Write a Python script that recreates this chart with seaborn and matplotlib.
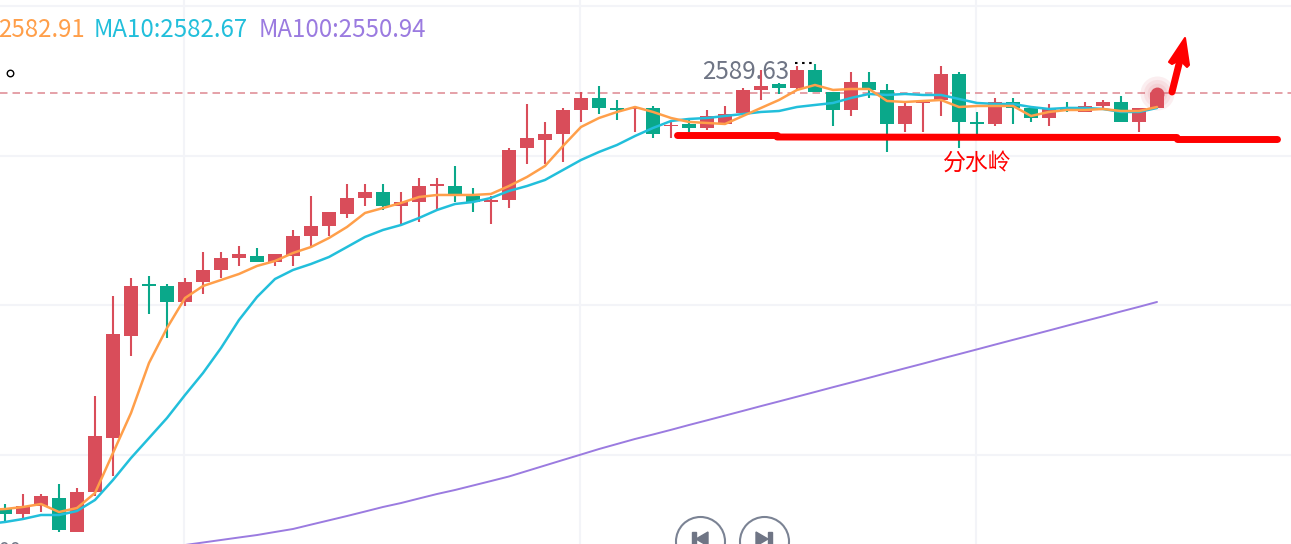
"""Gold candlestick chart with MA lines and hand-drawn annotations."""

import numpy as np
import matplotlib.pyplot as plt
import seaborn as sns

opens = [2515.89, 2515.14, 2516.47, 2517.81, 2512.13, 2518.81, 2527.84, 2544.90, 2553.60, 2553.26,
         2550.59, 2553.93, 2555.94, 2557.94, 2558.28, 2557.27, 2558.28, 2561.62, 2563.29, 2565.30,
         2567.98, 2568.98, 2566.64, 2567.31, 2569.98, 2569.98, 2568.31, 2567.31, 2567.64, 2576.34,
         2577.68, 2578.68, 2582.69, 2584.70, 2583.03, 2582.86, 2583.03, 2580.02, 2580.35, 2579.68,
         2580.35, 2582.19, 2586.04, 2587.04, 2586.37, 2589.38, 2585.70, 2582.69, 2587.37, 2586.04,
         2580.35, 2583.86, 2584.36, 2588.71, 2580.69, 2580.35, 2584.03, 2583.03, 2581.35, 2582.86,
         2582.36, 2583.36, 2584.03, 2580.69, 2583.03]
closes = [2515.14, 2516.47, 2518.15, 2512.46, 2518.81, 2528.18, 2545.23, 2553.26, 2553.26, 2550.59,
          2553.93, 2555.94, 2557.94, 2558.61, 2557.27, 2558.61, 2561.62, 2563.29, 2565.64, 2567.98,
          2568.98, 2566.64, 2567.31, 2569.98, 2570.32, 2568.65, 2567.31, 2567.64, 2576.00, 2578.01,
          2578.68, 2582.69, 2584.70, 2583.03, 2582.69, 2583.03, 2578.68, 2580.18, 2579.68, 2581.69,
          2582.02, 2586.04, 2586.71, 2586.37, 2589.38, 2585.70, 2582.69, 2587.37, 2586.04, 2580.35,
          2583.36, 2584.03, 2588.71, 2580.69, 2580.35, 2584.03, 2583.03, 2581.35, 2583.03, 2582.69,
          2583.36, 2584.03, 2580.69, 2583.03, 2585.53]
highs = [2516.81, 2518.48, 2518.48, 2520.15, 2519.48, 2534.87, 2551.59, 2554.60, 2554.93, 2553.60,
         2554.60, 2558.95, 2558.95, 2559.95, 2559.62, 2558.61, 2562.63, 2568.31, 2565.64, 2570.32,
         2570.32, 2570.32, 2568.98, 2571.32, 2571.32, 2573.33, 2569.65, 2568.31, 2576.34, 2583.70,
         2580.69, 2583.03, 2585.70, 2586.71, 2584.36, 2583.36, 2583.36, 2581.02, 2581.02, 2582.69,
         2583.36, 2586.37, 2589.38, 2587.21, 2590.05, 2590.38, 2585.70, 2589.05, 2589.05, 2587.04,
         2583.86, 2584.03, 2590.05, 2589.05, 2582.36, 2584.70, 2584.70, 2583.36, 2583.70, 2584.03,
         2584.03, 2584.36, 2585.03, 2583.03, 2585.70]
lows = [2513.80, 2514.47, 2515.47, 2512.13, 2512.13, 2518.15, 2521.49, 2541.56, 2548.58, 2544.57,
        2549.92, 2551.92, 2554.60, 2556.61, 2557.27, 2556.61, 2556.61, 2559.95, 2561.62, 2564.63,
        2566.64, 2565.97, 2563.63, 2563.96, 2565.97, 2567.31, 2565.64, 2563.63, 2566.30, 2573.66,
        2573.66, 2574.00, 2580.69, 2582.02, 2581.02, 2579.01, 2578.01, 2578.01, 2579.01, 2579.35,
        2580.35, 2582.19, 2584.36, 2585.37, 2586.04, 2585.70, 2580.02, 2581.69, 2584.70, 2575.67,
        2579.01, 2579.01, 2581.69, 2576.34, 2578.68, 2580.02, 2580.35, 2580.69, 2580.02, 2582.36,
        2582.36, 2583.03, 2580.69, 2579.01, 2583.03]

# first value of ma5 / ma10 is the candle just off the left edge (index -1)
ma5 = [2515.80, 2515.97, 2516.31, 2516.81, 2515.47, 2516.14, 2518.65, 2525.34, 2532.02, 2540.39,
       2546.24, 2551.25, 2553.26, 2554.26, 2555.27, 2556.61, 2557.44, 2558.78, 2559.78, 2561.29,
       2563.13, 2565.47, 2566.30, 2567.14, 2568.14, 2568.48, 2568.48, 2568.48, 2568.65, 2569.98,
       2571.49, 2573.33, 2576.67, 2579.85, 2581.35, 2582.36, 2583.19, 2582.36, 2581.35, 2580.69,
       2580.52, 2580.35, 2581.69, 2583.03, 2584.36, 2586.04, 2586.87, 2586.04, 2586.20, 2586.20,
       2584.20, 2584.03, 2584.20, 2584.36, 2583.19, 2583.36, 2583.36, 2583.36, 2581.69, 2582.36,
       2582.69, 2582.69, 2582.86, 2582.52, 2582.52, 2583.19]
ma10 = [2513.46, 2513.80, 2514.30, 2514.97, 2514.97, 2515.64, 2517.48, 2520.82, 2524.50, 2527.84,
        2531.19, 2535.03, 2538.71, 2542.89, 2547.58, 2551.42, 2554.43, 2555.94, 2556.94, 2558.11,
        2559.78, 2561.46, 2562.63, 2563.46, 2564.63, 2565.97, 2566.97, 2567.31, 2567.98, 2569.15,
        2569.98, 2570.99, 2572.66, 2574.33, 2575.67, 2576.84, 2578.34, 2579.68, 2580.85, 2581.19,
        2581.35, 2581.69, 2582.02, 2582.36, 2582.52, 2583.19, 2583.53, 2583.86, 2584.70, 2585.37,
        2585.20, 2585.37, 2585.20, 2585.20, 2584.53, 2583.86, 2583.70, 2583.70, 2583.19, 2582.86,
        2583.03, 2583.03, 2582.86, 2582.36, 2582.36, 2583.03]
# ma100 comes into view at candle 10
ma100 = [2509.95, 2510.37, 2510.79, 2511.21, 2511.62, 2512.13, 2512.63, 2513.36, 2514.08, 2514.80,
         2515.55, 2516.31, 2516.97, 2517.73, 2518.48, 2519.15, 2519.90, 2520.65, 2521.41, 2522.33,
         2523.25, 2524.17, 2525.08, 2526.00, 2526.84, 2527.68, 2528.43, 2529.21, 2530.02, 2530.80,
         2531.59, 2532.38, 2533.18, 2533.96, 2534.75, 2535.54, 2536.34, 2537.12, 2537.91, 2538.71,
         2539.50, 2540.28, 2541.09, 2541.87, 2542.66, 2543.46, 2544.25, 2545.03, 2545.82, 2546.62,
         2547.41, 2548.19, 2549.00, 2549.78, 2550.59]

price_ticks = [2525, 2550, 2575, 2600]
time_ticks = [9.95, 31.95, 53.95]
last_price = 2585.53
marked_high = "2589.63"
legend_labels = ["2582.91", "MA10:2582.67", "MA100:2550.94"]
annotation_label = "分水岭"

RED = "#D94D5A"
GREEN = "#0AA88A"
ORANGE = "#FF9F4A"
CYAN = "#22BFDB"
PURPLE = "#9B7BE0"
GREY = "#6F7585"
MARKER_RED = "#FF0000"

sns.set_style("whitegrid", {"grid.color": "#F3F4F8", "axes.edgecolor": "white"})
plt.rcParams["font.family"] = ["Noto Sans CJK SC", "DejaVu Sans"]

fig = plt.figure(figsize=(12.91, 5.44), dpi=100)
ax = fig.add_axes([0, 0, 1, 1])
ax.set_xlim(-5 / 18, 1286 / 18)
ax.set_ylim(2510.12, 2601.08)
ax.set_xticks(time_ticks)
ax.set_yticks(price_ticks)
ax.set_xticklabels([])
ax.set_yticklabels([])
ax.tick_params(length=0)
ax.grid(True, linewidth=1.5)
ax.set_axisbelow(True)
sns.despine(ax=ax, left=True, bottom=True)

x = np.arange(len(opens))
o, c, h, l = map(np.array, (opens, closes, highs, lows))
colors = [RED if b >= a else GREEN for a, b in zip(o, c)]

ax.axhline(last_price, color="#E0919A", lw=1.2, dashes=(4.5, 3), zorder=1.2)
ax.text(43.55, 2589.05, marked_high, ha="right", va="center", fontsize=17.4, color=GREY, zorder=1.5)

# pulse behind the last candle
for size in (600, 380, 200):
    ax.scatter(x[-1], last_price, s=size, color=RED, alpha=0.09, linewidths=0, zorder=1.6)

ax.vlines(x, l, h, colors=colors, lw=1.5, zorder=2)
ax.bar(x, np.maximum(np.abs(c - o), 0.2), bottom=np.minimum(o, c), width=0.78,
       color=colors, linewidth=0, zorder=2.1)
ax.scatter(x[-1], last_price - 0.2, s=100, color=RED, linewidths=0, zorder=2.2)

sns.lineplot(x=np.arange(-1, 65), y=ma10, color=CYAN, lw=1.8, ax=ax, zorder=3, estimator=None)
sns.lineplot(x=np.arange(-1, 65), y=ma5, color=ORANGE, lw=1.8, ax=ax, zorder=3.1, estimator=None)
sns.lineplot(x=np.arange(10, 65), y=ma100, color=PURPLE, lw=1.4, ax=ax, zorder=3, estimator=None)
ax.set_xlim(-5 / 18, 1286 / 18)
ax.set_ylim(2510.12, 2601.08)

# screen-space layer for the hand drawing and page furniture
top = fig.add_axes([0, 0, 1, 1])
top.set_xlim(0, 1291)
top.set_ylim(544, 0)
top.axis("off")
top.patch.set_alpha(0)

for xs, ys in (([677, 777], [135, 135]), ([777, 1177], [137, 137.5]), ([1177, 1277], [138.5, 138.5])):
    top.plot(xs, ys, color=MARKER_RED, lw=5, solid_capstyle="round")
top.plot([1172, 1180], [92, 60], color=MARKER_RED, lw=5, solid_capstyle="round")
top.fill([1185, 1169, 1172, 1180, 1187, 1189], [38, 62, 64, 60, 67, 65],
         color=MARKER_RED, lw=1.5, joinstyle="round")
top.text(977, 163, annotation_label, color=MARKER_RED, fontsize=16.5, ha="center", va="center")

for label, px, col in zip(legend_labels, (-2, 94, 259), (ORANGE, CYAN, PURPLE)):
    top.text(px, 30, label, color=col, fontsize=17.3, ha="left", va="center")

top.scatter([9.5], [73], s=22, facecolors="white", edgecolors="black", linewidths=1)
top.plot([795, 815], [63, 63], color="black", lw=1.5, dashes=(1.2, 2.2))
top.text(21, 551, "00", color=GREY, fontsize=14, ha="right", va="center")

# replay buttons, cut off by the bottom edge
top.scatter([700, 764], [541, 541], s=1246, facecolors="white", edgecolors="#7B8394", linewidths=1.5)
top.fill([696, 708, 708], [539, 532, 546], color=GREY)
top.fill([692, 696, 696, 692], [532, 532, 546, 546], color=GREY)
top.fill([768, 756, 756], [539, 532, 546], color=GREY)
top.fill([768, 772, 772, 768], [532, 532, 546, 546], color=GREY)

fig.savefig("out.png", dpi=100)
plt.close(fig)
